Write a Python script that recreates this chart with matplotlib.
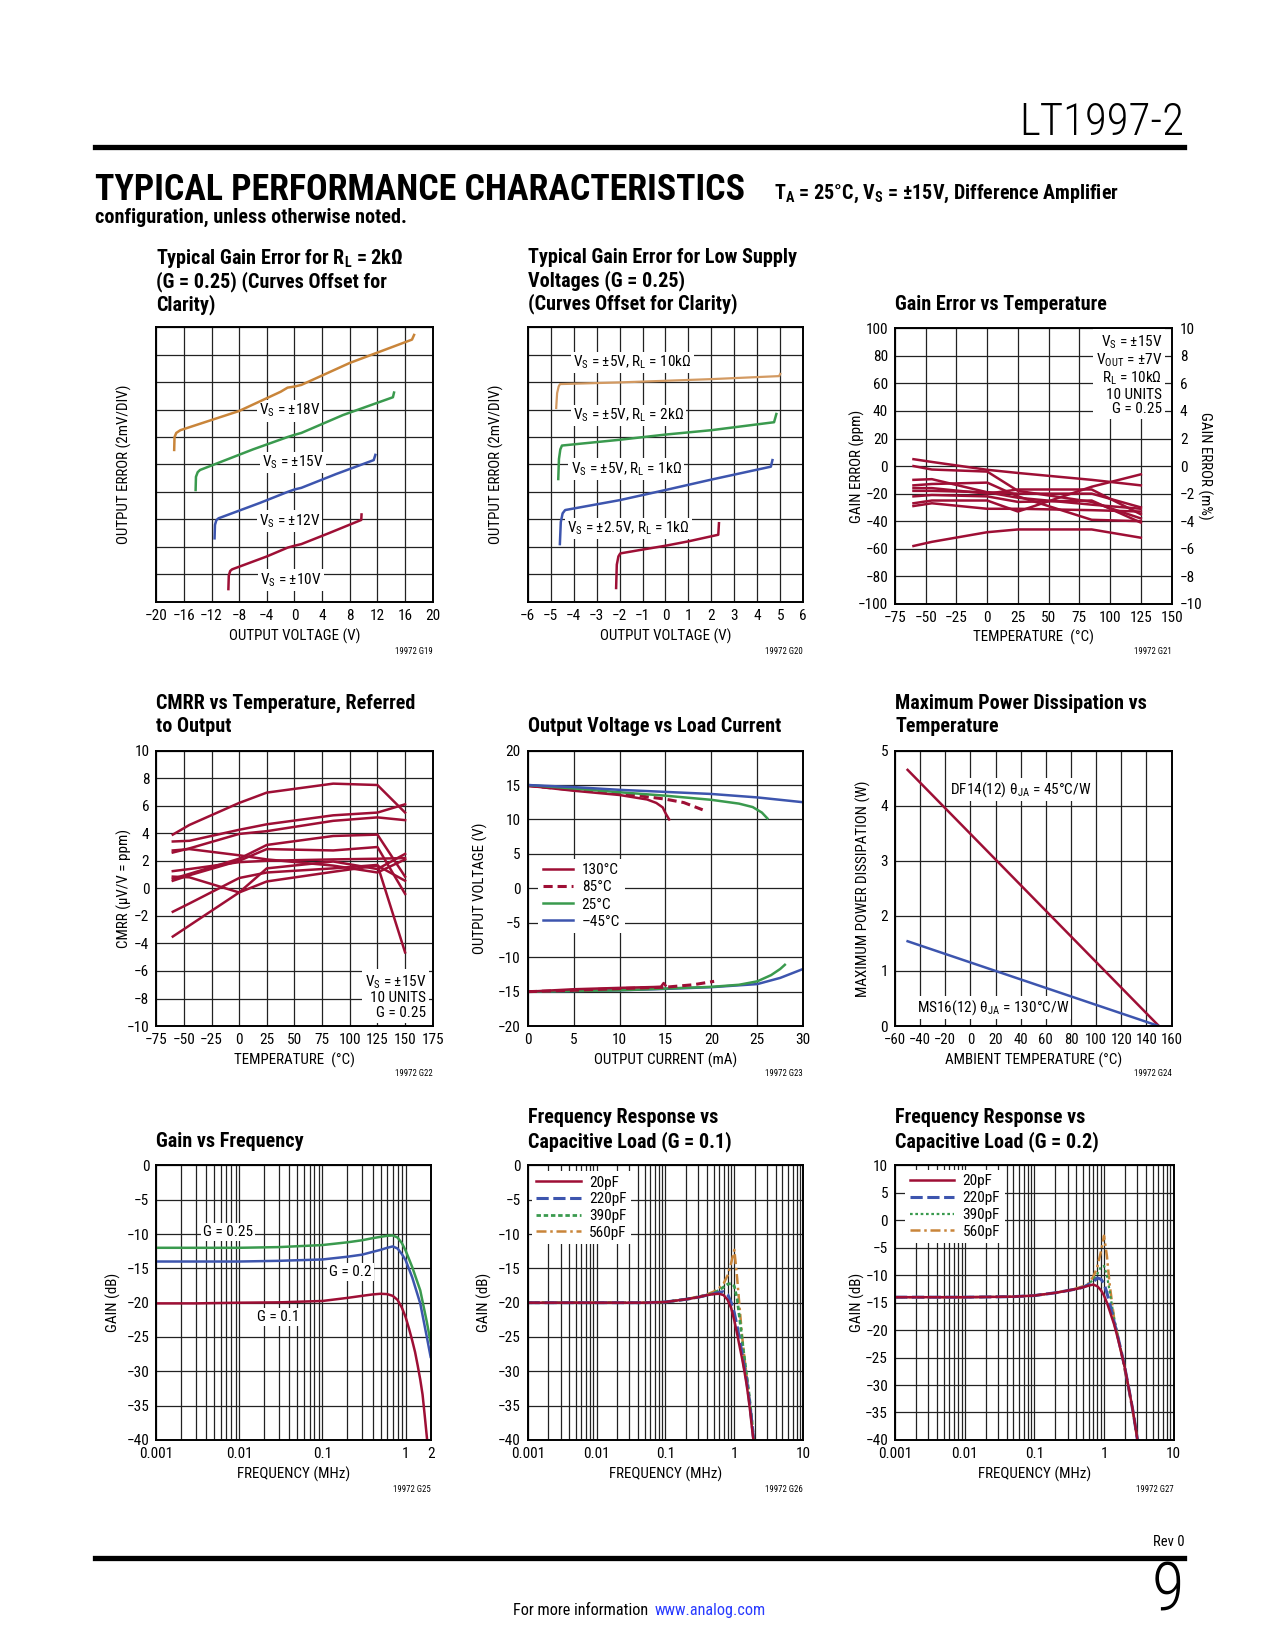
import matplotlib
matplotlib.use('Agg')
import matplotlib.pyplot as plt
from matplotlib import font_manager
from matplotlib.lines import Line2D
from matplotlib.ticker import NullFormatter

# layout measured on a 1208 x 1563 sheet, output is 1275 x 1650
PW, PH = 1208.0, 1563.0

# narrow sans if one is around, otherwise Roboto
_names = {f.name for f in font_manager.fontManager.ttflist}
NARROW = [n for n in ('Liberation Sans Narrow', 'Roboto Condensed', 'Roboto') if n in _names] + ['DejaVu Sans']
plt.rcParams['font.family'] = NARROW
plt.rcParams['mathtext.default'] = 'regular'

RED = '#9e0f35'
GREEN = '#3a9a4e'
BLUE = '#3d55ae'
ORANGE = '#c9853a'
GRID = '#222222'

# ---- G19: gain error, RL = 2k (y in divisions)
g19_x18 = [-17.4, -17.35, -17.1, -16.5, -8, -2, -1, 0, 1, 8, 17.0, 17.3]
g19_y18 = [5.53, 6.0, 6.15, 6.25, 6.95, 7.65, 7.8, 7.84, 7.9, 8.7, 9.55, 9.72]
g19_x15 = [-14.3, -14.25, -14.0, -13.66, -6, -1, 0, 1, 7, 14.24, 14.4]
g19_y15 = [4.07, 4.55, 4.72, 4.8, 5.55, 6.0, 6.08, 6.15, 6.8, 7.45, 7.62]
g19_x12 = [-11.56, -11.5, -11.3, -10.98, -5, -1, 0, 1, 6, 11.46, 11.7]
g19_y12 = [2.31, 2.8, 2.97, 3.04, 3.6, 4.0, 4.09, 4.15, 4.65, 5.16, 5.35]
g19_x10 = [-9.56, -9.5, -9.3, -9.02, -4, -1, 0, 1, 5, 9.66, 9.7]
g19_y10 = [0.46, 0.95, 1.12, 1.18, 1.65, 1.97, 2.04, 2.1, 2.5, 2.98, 3.18]

# ---- G20: low supply gain error (y in divisions)
g20_xa = [-4.76, -4.72, -4.65, -4.59, -2, 0, 2, 4.95, 5.0]
g20_ya = [7.06, 7.6, 7.85, 7.93, 7.99, 8.05, 8.11, 8.22, 8.3]
g20_xb = [-4.67, -4.64, -4.58, -4.51, -2, 0, 2, 4.73, 4.83]
g20_yb = [4.47, 5.2, 5.55, 5.69, 5.9, 6.09, 6.25, 6.54, 6.84]
g20_xc = [-4.6, -4.56, -4.48, -4.37, -2, 0, 2, 4.59, 4.66]
g20_yc = [2.1, 2.9, 3.22, 3.34, 3.7, 4.07, 4.45, 4.92, 5.16]
g20_xd = [-2.15, -2.12, -2.05, -1.97, -1, 0, 1, 2.3, 2.33]
g20_yd = [0.5, 1.35, 1.65, 1.76, 1.9, 2.04, 2.2, 2.44, 2.86]

# ---- G21: gain error vs temperature (ppm)
ge_temp = [-60, -45, 0, 25, 85, 125]
ge_units = [
    [5, 3, -2.7, -5, -10, -14],
    [0, -2.5, -4, -18, -26, -38],
    [-10, -9.5, -19, -20, -20, -30],
    [-14, -13, -12, -22, -39, -40],
    [-16, -16, -20, -17, -17, -35],
    [-18, -18, -19, -23, -28, -31],
    [-22, -21, -22, -26, -25, -41],
    [-27, -25, -25, -33, -15, -6],
    [-29, -27, -31, -31, -32, -33],
    [-58, -55, -48, -46, -46, -52],
]

# ---- G22: CMRR vs temperature
cm_temp = [-60, -45, 0, 25, 85, 125, 150]
cm_units = [
    [3.9, 4.6, 6.2, 6.95, 7.6, 7.5, 5.5],
    [3.4, 3.45, 4.25, 4.65, 5.3, 5.5, 6.1],
    [2.6, 2.9, 3.95, 4.15, 4.9, 5.15, 4.95],
    [2.75, 2.85, 2.4, 2.1, 1.65, 1.15, 2.1],
    [1.25, 1.4, 1.9, 2.0, 2.1, 2.15, 2.2],
    [0.7, 1.05, 2.15, 3.15, 3.8, 3.9, 0.85],
    [0.55, 0.95, 2.0, 2.85, 2.75, 3.0, -0.4],
    [0.85, 0.8, -0.3, 1.45, 1.95, 1.4, 2.5],
    [-1.7, -1.1, 0.75, 1.15, 1.45, 1.7, -4.65],
    [-3.5, -2.7, -0.3, 0.5, 1.2, 1.65, 0.55],
]

# ---- G23: output voltage vs load current
i130p = [0, 5, 10, 13, 14, 14.7, 15.05, 15.4]
v130p = [14.9, 14.17, 13.55, 12.9, 12.4, 11.75, 10.8, 10.0]
i85p = [0, 5, 10, 15, 17, 19.05]
v85p = [14.9, 14.3, 13.8, 12.95, 12.45, 11.4]
i25p = [0, 5, 10, 15, 20, 23, 24.5, 25.5, 26.1]
v25p = [15.0, 14.5, 13.95, 13.45, 12.85, 12.3, 11.8, 11.0, 10.15]
i45p = [0, 5, 10, 15, 20, 25, 30]
v45p = [15.0, 14.7, 14.3, 14.0, 13.7, 13.2, 12.5]
i130n = [0, 5, 10, 14.5, 14.8, 15.0]
v130n = [-15.0, -14.65, -14.45, -14.3, -13.75, -14.1]
i85n = [0, 5, 10, 15, 18, 20.3]
v85n = [-15.0, -14.8, -14.55, -14.35, -14.0, -13.5]
i25n = [0, 10, 15, 20, 23, 25, 26.5, 27.5, 28.0]
v25n = [-15.0, -14.8, -14.55, -14.3, -14.0, -13.5, -12.6, -11.7, -11.1]
i45n = [0, 10, 15, 20, 25, 27.5, 30]
v45n = [-15.0, -14.8, -14.6, -14.35, -13.9, -13.0, -11.7]

# ---- G24: max power dissipation
pd_temp = [-50, 150]
pd_df14 = [4.65, 0.0]
pd_ms16 = [1.54, 0.0]

# ---- G25: gain vs frequency
f25 = [0.001, 0.003, 0.01, 0.03, 0.1, 0.2, 0.3, 0.4, 0.5, 0.6, 0.7, 0.8, 0.9, 1.0, 1.2, 1.5, 1.8, 2.0]
gain_025 = [-12.0, -12.0, -12.0, -11.9, -11.6, -11.2, -10.9, -10.6, -10.4, -10.25, -10.2, -10.5, -11.3, -12.4, -14.8, -18.2, -22.8, -25.8]
gain_020 = [-14.0, -14.0, -14.0, -13.9, -13.7, -13.3, -13.0, -12.6, -12.3, -12.0, -11.8, -12.1, -12.9, -13.8, -16.3, -20.1, -25.0, -27.9]
f25b = [0.001, 0.003, 0.01, 0.03, 0.1, 0.2, 0.3, 0.4, 0.5, 0.6, 0.7, 0.8, 0.9, 1.0, 1.1, 1.2, 1.3, 1.4, 1.5, 1.6, 1.7, 1.85]
gain_010 = [-20.1, -20.1, -20.0, -19.95, -19.75, -19.3, -19.0, -18.8, -18.7, -18.75, -19.0, -19.6, -20.7, -22.1, -23.8, -25.5, -27.2, -29.2, -31.2, -33.4, -36.5, -41]

# ---- G26: frequency response vs cap load, G = 0.1
f26 = [0.001, 0.01, 0.05, 0.1, 0.2, 0.3, 0.4, 0.5, 0.6, 0.7, 0.8, 0.9, 1.0, 1.1, 1.2, 1.3, 1.4, 1.5, 1.6, 1.7, 1.8, 1.95]
c26_20 = [-20, -20, -20, -19.9, -19.5, -19.2, -18.9, -18.75, -18.7, -18.9, -19.6, -20.8, -22.6, -24.6, -26.5, -28.2, -30.0, -31.8, -33.8, -35.9, -38.2, -41]
c26_220 = [-20, -20, -20, -19.9, -19.5, -19.2, -18.9, -18.7, -18.5, -18.4, -18.8, -20.0, -21.5, -23.5, -25.5, -27.5, -29.5, -31.2, -33.2, -35.3, -37.5, -41]
c26_390 = [-20, -20, -20, -19.9, -19.5, -19.2, -18.9, -18.6, -18.2, -17.7, -17.3, -17.2, -17.6, -19.5, -22.5, -25.5, -28.0, -30.3, -32.5, -34.8, -37.2, -41]
c26_560 = [-20, -20, -20, -19.9, -19.5, -19.1, -18.8, -18.4, -17.9, -17.2, -16.0, -14.2, -12.3, -16.5, -21.0, -25.0, -28.0, -30.5, -32.8, -35.2, -37.6, -41]

# ---- G27: frequency response vs cap load, G = 0.2
f27 = [0.001, 0.01, 0.05, 0.1, 0.2, 0.3, 0.4, 0.5, 0.6, 0.7, 0.8, 0.9, 1.0, 1.1, 1.2, 1.4, 1.6, 1.8, 2.0, 2.3, 2.6, 2.9, 3.1]
c27_20 = [-14, -14, -13.9, -13.7, -13.2, -12.8, -12.5, -12.2, -11.9, -11.7, -12.0, -12.7, -13.7, -15.0, -16.4, -19.0, -21.8, -24.5, -27.0, -31.0, -34.7, -38.5, -41]
c27_220 = [-14, -14, -13.9, -13.7, -13.2, -12.8, -12.5, -12.2, -11.7, -11.2, -10.5, -10.7, -11.5, -13.2, -15.0, -18.5, -21.5, -24.3, -27.0, -31.0, -34.7, -38.5, -41]
c27_390 = [-14, -14, -13.9, -13.7, -13.2, -12.8, -12.5, -12.2, -11.6, -10.8, -9.8, -8.5, -8.3, -10.0, -12.8, -18.0, -21.3, -24.3, -27.0, -31.0, -34.7, -38.5, -41]
c27_560 = [-14, -14, -13.9, -13.7, -13.2, -12.8, -12.4, -12.0, -11.5, -10.3, -8.5, -5.8, -2.8, -6.5, -11.5, -18.0, -21.5, -24.5, -27.5, -31.3, -35.0, -38.7, -41]

TS = 11.0   # tick labels, notes, legends
LS = 10.8   # axis labels
fig = plt.figure(figsize=(12.75, 16.5), dpi=100)


def box(l, t, r, b):
    return fig.add_axes([l / PW, 1 - b / PH, (r - l) / PW, (b - t) / PH])


def ftext(x, y, s, **kw):
    return fig.text(x / PW, 1 - y / PH, s, **kw)


def style(ax, size=TS):
    ax.set_axisbelow(True)
    ax.grid(True, which='both', color=GRID, lw=0.9)
    ax.tick_params(which='both', length=0, labelsize=size, pad=5)
    for sp in ax.spines.values():
        sp.set_linewidth(1.4)
        sp.set_color('black')


def title(x, ys, lines):
    for y, s in zip(ys, lines):
        ftext(x, y, s, ha='left', va='center', fontsize=14.5, fontweight='bold')


def labels(l, t, r, b, xl, yl, ylx, code, row_x, row_c):
    ftext((l + r) / 2, row_x, xl, ha='center', va='center', fontsize=LS)
    ftext(ylx, (t + b) / 2, yl, ha='center', va='center', rotation=90, fontsize=LS)
    ftext(r, row_c, code, ha='right', va='center', fontsize=6.3)


def note(ax, x, y, s, **kw):
    kw.setdefault('ha', 'center')
    ax.text(x, y, s, va='center', fontsize=TS, zorder=1.5,
            bbox=dict(fc='white', ec='none', pad=1.5), **kw)


# ---------------- header / footer
ftext(1122, 116, 'LT1997-2', ha='right', va='center', fontsize=32.3, fontweight='light')
fig.add_artist(Line2D([90 / PW, 1122 / PW], [1 - 139 / PH] * 2, color='black', lw=3.8))
ftext(90, 180, 'TYPICAL PERFORMANCE CHARACTERISTICS', ha='left', va='center',
      fontsize=25.8, fontweight='heavy')
ftext(733, 184, r'T$_A$ = 25°C, V$_S$ = ±15V, Difference Amplifier', ha='left', va='center',
      fontsize=14.5, fontweight='bold')
ftext(90, 206, 'configuration, unless otherwise noted.', ha='left', va='center',
      fontsize=14.5, fontweight='bold')
ftext(1122, 1461, 'Rev 0', ha='right', va='center', fontsize=10.5)
fig.add_artist(Line2D([90 / PW, 1122 / PW], [1 - 1476 / PH] * 2, color='black', lw=3.8))
ftext(1122, 1509, '9', ha='right', va='center', fontsize=48, fontweight='light')
ftext(618, 1526, 'For more information ', ha='right', va='center', fontsize=11.7)
ftext(620, 1526, 'www.analog.com', ha='left', va='center', fontsize=11.7, color='#2a3cff')

# ---------------- G19
ax = box(148, 310, 410, 570)
style(ax)
ax.plot(g19_x18, g19_y18, color=ORANGE, lw=1.8)
ax.plot(g19_x15, g19_y15, color=GREEN, lw=1.8)
ax.plot(g19_x12, g19_y12, color=BLUE, lw=1.8)
ax.plot(g19_x10, g19_y10, color=RED, lw=1.8)
note(ax, -0.7, 6.96, r'V$_S$ = ±18V')
note(ax, -0.25, 5.07, r'V$_S$ = ±15V')
note(ax, -0.7, 2.94, r'V$_S$ = ±12V')
note(ax, -0.5, 0.79, r'V$_S$ = ±10V')
ax.set_xlim(-20, 20)
ax.set_xticks(range(-20, 21, 4))
ax.set_ylim(0, 10)
ax.set_yticks(range(11))
ax.set_yticklabels([])
title(148, [245, 267, 289], [r'Typical Gain Error for R$_L$ = 2kΩ',
                             '(G = 0.25) (Curves Offset for', 'Clarity)'])
labels(148, 310, 410, 570, 'OUTPUT VOLTAGE (V)', 'OUTPUT ERROR (2mV/DIV)', 118,
       '19972 G19', 603, 617)

# ---------------- G20
ax = box(500, 310, 761, 570)
style(ax)
ax.plot(g20_xa, g20_ya, color='#d39a62', lw=1.6)
ax.plot(g20_xb, g20_yb, color=GREEN, lw=1.8)
ax.plot(g20_xc, g20_yc, color=BLUE, lw=1.8)
ax.plot(g20_xd, g20_yd, color=RED, lw=1.8)
note(ax, -1.43, 8.72, r'V$_S$ = ±5V, R$_L$ = 10kΩ')
note(ax, -1.6, 6.78, r'V$_S$ = ±5V, R$_L$ = 2kΩ')
note(ax, -1.72, 4.84, r'V$_S$ = ±5V, R$_L$ = 1kΩ')
note(ax, -1.6, 2.67, r'V$_S$ = ±2.5V, R$_L$ = 1kΩ')
ax.set_xlim(-6, 6)
ax.set_xticks(range(-6, 7))
ax.set_ylim(0, 10)
ax.set_yticks(range(11))
ax.set_yticklabels([])
title(500, [244, 266, 288], ['Typical Gain Error for Low Supply',
                             'Voltages (G = 0.25)', '(Curves Offset for Clarity)'])
labels(500, 310, 761, 570, 'OUTPUT VOLTAGE (V)', 'OUTPUT ERROR (2mV/DIV)', 470,
       '19972 G20', 603, 617)

# ---------------- G21
ax = box(848, 311, 1110, 572)
style(ax)
for u in ge_units:
    ax.plot(ge_temp, u, color=RED, lw=1.8)
ax.set_xlim(-75, 150)
ax.set_xticks(range(-75, 151, 25))
ax.set_ylim(-100, 100)
ax.set_yticks(range(-100, 101, 20))
ax.text(0.966, 0.831, 'V$_S$ = ±15V\nV$_{OUT}$ = ±7V\nR$_L$ = 10kΩ\n10 UNITS\nG = 0.25',
        transform=ax.transAxes, ha='right', va='center', fontsize=TS, linespacing=1.05,
        zorder=1.5, bbox=dict(fc='white', ec='none', pad=2))
ax2 = ax.twinx()
ax2.set_ylim(-10, 10)
ax2.set_yticks(range(-10, 11, 2))
ax2.tick_params(length=0, labelsize=TS, pad=6)
for sp in ax2.spines.values():
    sp.set_visible(False)
title(848, [288], ['Gain Error vs Temperature'])
labels(848, 311, 1110, 572, 'TEMPERATURE  (°C)', 'GAIN ERROR (ppm)', 812,
       '19972 G21', 604, 617)
ftext(1141, 441, 'GAIN ERROR (m%)', ha='center', va='center', rotation=270, fontsize=LS)

# ---------------- G22
ax = box(148, 711, 410, 972)
style(ax)
for u in cm_units:
    ax.plot(cm_temp, u, color=RED, lw=1.8)
ax.set_xlim(-75, 175)
ax.set_xticks(range(-75, 176, 25))
ax.set_ylim(-10, 10)
ax.set_yticks(range(-10, 11, 2))
ax.text(0.977, 0.107, 'V$_S$ = ±15V\n10 UNITS\nG = 0.25', transform=ax.transAxes,
        ha='right', va='center', fontsize=TS, linespacing=1.05, zorder=1.5,
        bbox=dict(fc='white', ec='none', pad=2))
title(148, [666, 688], ['CMRR vs Temperature, Referred', 'to Output'])
labels(148, 711, 410, 972, 'TEMPERATURE  (°C)', 'CMRR (µV/V = ppm)', 118,
       '19972 G22', 1004, 1017)

# ---------------- G23
ax = box(500, 711, 761, 972)
style(ax)
ax.plot(i130p, v130p, color=RED, lw=1.8, label='130°C')
ax.plot(i85p, v85p, color=RED, lw=2.2, dashes=(3, 1.6), label='85°C')
ax.plot(i25p, v25p, color=GREEN, lw=1.8, label='25°C')
ax.plot(i45p, v45p, color=BLUE, lw=1.8, label='–45°C')
ax.plot(i45n, v45n, color=BLUE, lw=1.8)
ax.plot(i25n, v25n, color=GREEN, lw=1.8)
ax.plot(i85n, v85n, color=RED, lw=2.2, dashes=(3, 1.6))
ax.plot(i130n, v130n, color=RED, lw=1.8)
ax.set_xlim(0, 30)
ax.set_xticks(range(0, 31, 5))
ax.set_ylim(-20, 20)
ax.set_yticks(range(-20, 21, 5))
lg = ax.legend(loc='upper left', bbox_to_anchor=(0.038, 0.607), borderaxespad=0, borderpad=0.3,
               fontsize=TS, handlelength=2.0, handletextpad=0.55, labelspacing=0.2,
               frameon=True, fancybox=False, framealpha=1)
lg.get_frame().set_edgecolor('none')
title(500, [688], ['Output Voltage vs Load Current'])
labels(500, 711, 761, 972, 'OUTPUT CURRENT (mA)', 'OUTPUT VOLTAGE (V)', 455,
       '19972 G23', 1004, 1017)

# ---------------- G24
ax = box(848, 711, 1110, 972)
style(ax, size=10.5)
ax.plot(pd_temp, pd_df14, color=RED, lw=1.8)
ax.plot(pd_temp, pd_ms16, color=BLUE, lw=1.8)
note(ax, -16, 4.3, r'DF14(12) θ$_{JA}$ = 45°C/W', ha='left')
note(ax, -42.7, 0.34, r'MS16(12) θ$_{JA}$ = 130°C/W', ha='left')
ax.set_xlim(-60, 160)
ax.set_xticks(range(-60, 161, 20))
ax.set_ylim(0, 5)
ax.set_yticks(range(6))
ax.tick_params(axis='y', labelsize=TS)
title(848, [666, 688], ['Maximum Power Dissipation vs', 'Temperature'])
labels(848, 711, 1110, 972, 'AMBIENT TEMPERATURE (°C)', 'MAXIMUM POWER DISSIPATION (W)', 818,
       '19972 G24', 1004, 1017)


def logstyle(ax, right, ticks, ticklabels):
    ax.set_xscale('log')
    ax.set_xlim(0.001, right)
    ax.set_xticks(ticks)
    ax.set_xticklabels(ticklabels)
    ax.xaxis.set_minor_formatter(NullFormatter())
    style(ax)


def caplegend(ax, anchor):
    h, l = ax.get_legend_handles_labels()
    lg = ax.legend(h[::-1], l[::-1], loc='upper left', bbox_to_anchor=anchor, borderaxespad=0,
                   borderpad=0.3, fontsize=TS, handlelength=2.9, handletextpad=0.55,
                   labelspacing=0.18, frameon=True, fancybox=False, framealpha=1)
    lg.get_frame().set_edgecolor('none')


# ---------------- G25
ax = box(148, 1104, 408, 1364)
logstyle(ax, 2, [0.001, 0.01, 0.1, 1, 2], ['0.001', '0.01', '0.1', '1', '2'])
ax.plot(f25, gain_025, color=GREEN, lw=1.8)
ax.plot(f25, gain_020, color=BLUE, lw=1.8)
ax.plot(f25b, gain_010, color=RED, lw=1.8)
note(ax, 0.0073, -9.7, 'G = 0.25')
note(ax, 0.217, -15.5, 'G = 0.2')
note(ax, 0.029, -22.1, 'G = 0.1')
ax.set_ylim(-40, 0)
ax.set_yticks(range(-40, 1, 5))
title(148, [1081], ['Gain vs Frequency'])
labels(148, 1104, 408, 1364, 'FREQUENCY (MHz)', 'GAIN (dB)', 107, '19972 G25', 1397, 1411)

# ---------------- G26
ax = box(500, 1104, 761, 1364)
logstyle(ax, 10, [0.001, 0.01, 0.1, 1, 10], ['0.001', '0.01', '0.1', '1', '10'])
ax.plot(f26, c26_560, color=ORANGE, lw=1.8, dashes=(4, 1.5, 1, 1.5), label='560pF')
ax.plot(f26, c26_390, color=GREEN, lw=2.0, dashes=(1.6, 1.0), label='390pF')
ax.plot(f26, c26_220, color=BLUE, lw=2.2, dashes=(4, 1.5), label='220pF')
ax.plot(f26, c26_20, color=RED, lw=1.8, label='20pF')
ax.set_ylim(-40, 0)
ax.set_yticks(range(-40, 1, 5))
caplegend(ax, (0.015, 0.98))
title(500, [1059, 1081], ['Frequency Response vs', 'Capacitive Load (G = 0.1)'])
labels(500, 1104, 761, 1364, 'FREQUENCY (MHz)', 'GAIN (dB)', 459, '19972 G26', 1397, 1411)

# ---------------- G27
ax = box(848, 1104, 1112, 1364)
logstyle(ax, 10, [0.001, 0.01, 0.1, 1, 10], ['0.001', '0.01', '0.1', '1', '10'])
ax.plot(f27, c27_560, color=ORANGE, lw=1.8, dashes=(4, 1.5, 1, 1.5), label='560pF')
ax.plot(f27, c27_390, color=GREEN, lw=1.6, dashes=(1.2, 1.2), label='390pF')
ax.plot(f27, c27_220, color=BLUE, lw=2.2, dashes=(4, 1.5), label='220pF')
ax.plot(f27, c27_20, color=RED, lw=1.8, label='20pF')
ax.set_ylim(-40, 10)
ax.set_yticks(range(-40, 11, 5))
caplegend(ax, (0.037, 0.984))
title(848, [1059, 1081], ['Frequency Response vs', 'Capacitive Load (G = 0.2)'])
labels(848, 1104, 1112, 1364, 'FREQUENCY (MHz)', 'GAIN (dB)', 812, '19972 G27', 1397, 1411)

fig.savefig('out.png', dpi=100)
